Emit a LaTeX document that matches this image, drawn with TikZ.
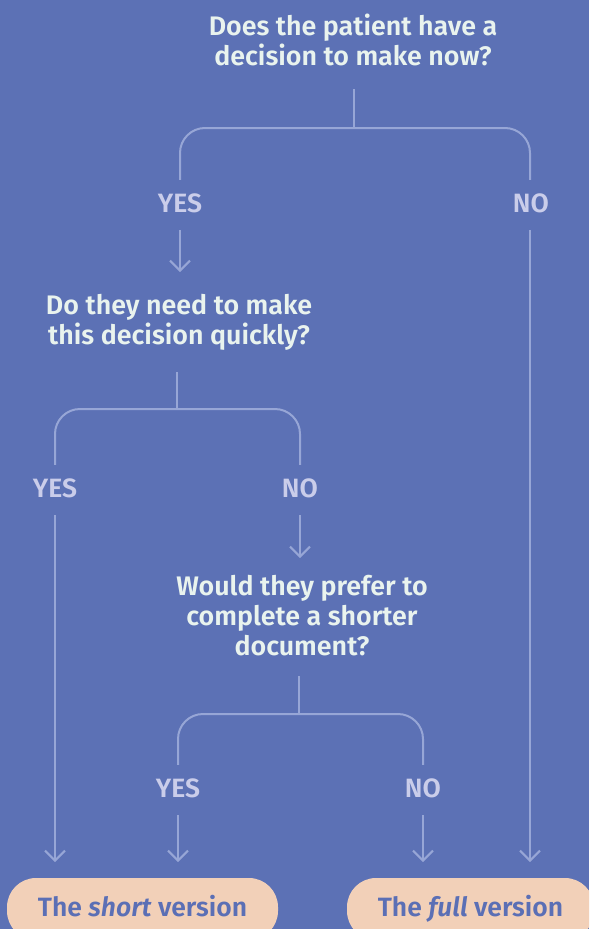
\documentclass[tikz,border=0pt]{standalone}
\usepackage{fontspec}
\setmainfont{Fira Sans}[BoldFont={Fira Sans SemiBold},BoldItalicFont={Fira Sans SemiBold Italic}]
\usetikzlibrary{arrows.meta}
\definecolor{bgblue}{HTML}{5C71B5}
\definecolor{qtext}{HTML}{E9F3EE}
\definecolor{lbltext}{HTML}{CACDEA}
\definecolor{linecol}{HTML}{97A6D6}
\definecolor{pillfill}{HTML}{F2D0B8}
\definecolor{pilltext}{HTML}{5B6FB5}
\begin{document}
\begin{tikzpicture}[x=1pt,y=-1pt,
  question/.style={inner sep=0pt,align=center,text=qtext,font=\fontsize{26.8}{30}\selectfont\bfseries,anchor=base},
  answer/.style={inner xsep=0pt,inner ysep=14pt,text height=18pt,text depth=4pt,text=lbltext,font=\fontsize{26.5}{30}\selectfont\bfseries,anchor=base},
  pill/.style={fill=pillfill,text=pilltext,rounded corners=29pt,text height=20pt,text depth=6pt,inner ysep=18pt,inner xsep=0pt,anchor=base,font=\fontsize{26.5}{30}\selectfont\bfseries},
  conn/.style={draw=linecol,line width=2pt},
  bracket/.style={conn,rounded corners=25pt},
  arr/.style={conn,-{Straight Barb[length=10pt,width=20pt,line width=2pt]}}
]
\useasboundingbox (0,0) rectangle (589,929);
\fill[bgblue] (0,0) rectangle (589,929);
\begin{scope}
\clip (0,0) rectangle (589,929);
% questions
\node[question] (q1) at (353,65) {Does the patient have a\\decision to make now?};
\node[question] (q2) at (179,344) {Do they need to make\\this decision quickly?};
\node[question] (q3) at (302,655) {Would they prefer to\\complete a shorter\\document?};
% answers
\node[answer] (y1) at (180,212) {YES};
\node[answer] (n1) at (531,212) {NO};
\node[answer] (y2) at (55,497) {YES};
\node[answer] (n2) at (300,497) {NO};
\node[answer] (y3) at (178,797) {YES};
\node[answer] (n3) at (423,797) {NO};
% outcomes
\node[pill,minimum width=271pt] (short) at (142.5,916) {The \textit{short} version};
\node[pill,minimum width=247pt] (full) at (470.5,916) {The \textit{full} version};
% stems and brackets
\coordinate (j1) at (354,128);
\coordinate (j2) at (177,409);
\coordinate (j3) at (299,714);
\draw[conn] (j1 |- 0,89) -- (j1);
\draw[bracket] (y1.north) |- (j1) -| (n1.north -| 530,0);
\draw[conn] (j2 |- 0,372) -- (j2);
\draw[bracket] (y2.north) |- (j2) -| (n2.north);
\draw[conn] (j3 |- 0,676) -- (j3);
\draw[bracket] (y3.north) |- (j3) -| (n3.north);
% arrows
\draw[arr] (y1.south) -- (y1.south |- 0,272);
\draw[arr] (n1.south -| 530,0) -- (530,862);
\draw[arr] (y2.south) -- (y2.south |- 0,862);
\draw[arr] (n2.south) -- (n2.south |- 0,558);
\draw[arr] (y3.south) -- (y3.south |- 0,862);
\draw[arr] (n3.south) -- (n3.south |- 0,862);
\end{scope}
\end{tikzpicture}
\end{document}
